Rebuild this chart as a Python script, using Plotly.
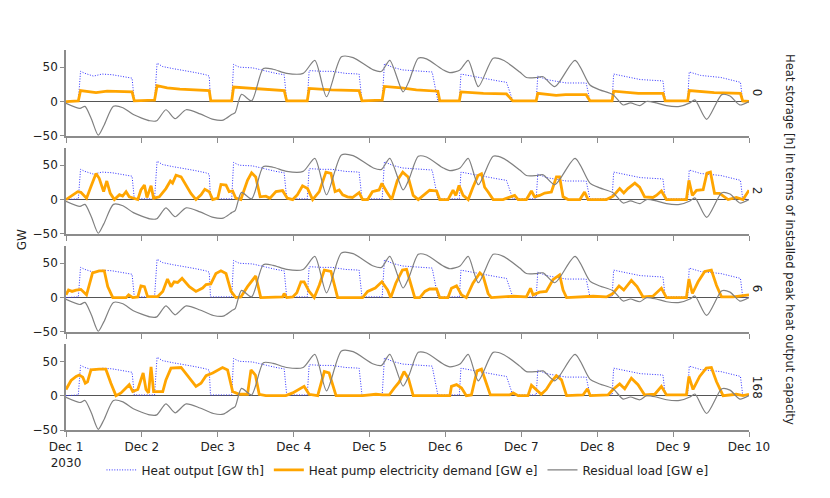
import pandas as pd
import plotly.graph_objects as go
from plotly.subplots import make_subplots

start = pd.Timestamp("2030-12-01")

# ---- data (hours since 2030-12-01 00:00, GW) ----
heat_h = [0, 3.9, 4.6, 6, 8.7, 11.4, 14.6, 17.7, 20.9, 21.6, 28.0, 28.8, 30.5, 33.7, 37.9, 41.1, 44.2, 45.3, 45.7,
          52.4, 53.0, 54.8, 59.0, 63.2, 66.4, 69.0, 69.8, 76.3, 76.9, 81.1, 84.2, 88.4, 92.7, 93.6,
          100.0, 100.7, 103.2, 106.4, 110.8, 115.8, 117.6, 124.4, 124.9, 127, 132.4, 136.6, 139.3, 141.3,
          148.7, 149.2, 151.9, 158.2, 164.5, 165.7, 172.7, 173.2, 177.4, 181.6, 188.8, 189.5,
          196.6, 197.1, 200.7, 207.1, 213.3, 214.0, 216]
heat_v = [0, 1, 44, 41, 37, 40, 39, 36, 34, 1, 1, 56, 51, 48, 45, 42, 39, 37, 1,
          1, 54, 50, 49, 44, 41, 39, 1, 1, 45, 44, 44, 41, 40, 1,
          1, 55, 50, 46, 45, 43, 1, 1, 40, 38, 33, 30, 28, 1,
          1, 37, 32, 27, 27, 1, 1, 40, 36, 32, 30, 1,
          1, 43, 38, 35, 28, 1, 0]

res_h = [0, 4.4, 6, 8, 10.2, 12, 15, 18, 21.3, 26.5, 28.7, 31.6, 34.5, 38, 42.4, 46.6, 49.7, 52.4, 53.5, 55.5,
         58.7, 62.4, 65.5, 69.8, 75, 78.7, 82.4, 87.1, 90.8, 97.2, 99.8, 102.4, 106.6, 108.5, 111.4, 114,
         119.3, 121.4, 124.6, 127.2, 130.4, 135.1, 138.3, 143.5, 145.6, 148.8, 150.9, 154.6, 161, 165.7,
         168.8, 173, 176.2, 178.5, 181.5, 183.6, 186.7, 189.9, 194.1, 197.3, 198.9, 202.6, 207.4, 210,
         213.1, 216]
res_v = [-2.5, -10, -7, -25, -49, -35, -7, -9, -19, -28, -28, -12, -25, -12, -18, -26, -27, -19, -16, 10.5,
         1, 48, 47, 41, 41, 60, 7, 65, 64, 46, 44, 60, 14, 30, 63, 62,
         46, 42, 46, 60, 21.6, 63, 60, 43, 35, 35, 36, 21.6, 60, 24,
         17, 10, -5, -2, -6, 0, -2, -6, -7, -2, 2.4, -26, 10, 8,
         -5, 0]

hp0_h = [0, 3.9, 4.6, 6, 9.5, 13, 17, 20.9, 21.6, 28.0, 28.8, 32, 36, 40, 45.3, 45.8, 52.4, 53.0, 59, 63, 69,
         69.8, 76.3, 76.9, 84, 92.7, 93.6, 100, 100.7, 106, 110.8, 117.6, 118.2, 124.4, 124.9, 132, 139.3,
         141.3, 148.7, 149.2, 155, 158, 164.5, 165.7, 172.7, 173.2, 181, 188.8, 189.5, 196.6, 197.1, 205,
         213.3, 214, 216]
hp0_v = [0, 1, 16, 15, 13, 15, 14, 14, 1, 2, 23, 20, 18, 17, 16, 1, 1, 21, 19, 18, 16,
         1, 1, 19, 17, 16, 1, 2, 22, 20, 17, 15, 1, 1, 14, 12, 11,
         1, 1, 12, 9, 10, 10, 1, 1, 15, 12, 12, 1, 1, 16, 13,
         12, 1, 0]

hp2_h = [0, 1.6, 3.7, 4.7, 6.5, 7.9, 9.5, 10.5, 11.9, 12.9, 14, 15.3, 16.9, 17.9, 19, 20, 21.6, 22.7, 23.7,
         24.8, 25.6, 26.9, 27.7, 29.5, 31.6, 33, 33.7, 34.8, 36.4, 37.9, 39.5, 41.1, 42.7, 43.9, 45.3, 46.4,
         48, 49, 50.6, 51.6, 52.7, 53.7, 55.3, 57.4, 58.7, 60, 61.4, 63.2, 64.5, 66.4, 68.5, 70, 71.7, 73.2,
         74.8, 76.4, 78, 80.1, 82.2, 83.8, 85.1, 86.4, 87.5, 89, 90.6, 92.7, 93.8, 95.4, 96.9, 99, 99.9,
         101.4, 103, 104.8, 106.5, 108.2, 109.8, 111.4, 112.9, 115, 117.2, 118.2, 120.8, 122.4, 123.3,
         124.3, 125.6, 127.2, 128.7, 130.3, 131.4, 132.4, 133.5, 135.1, 138.2, 140.3, 141.9, 143, 145.6,
         147.2, 148.2, 149.8, 151.4, 153.5, 155.1, 156.1, 157.2, 158.8, 162.5, 164, 165.1, 170.9, 173,
         175.1, 176.4, 177.7, 179.9, 181.4, 183, 185.6, 186.7, 188.3, 189.9, 196.2, 197, 198.1, 199.4,
         201.5, 202.7, 203.8, 205.1, 206.7, 209.4, 212, 214.1, 216]
hp2_v = [0, 5, 11.5, 10.5, 2, 19, 38, 31, 11.5, 27, 9, 0, 7, 5, 11.5, 4, 2, 0, 14,
         21, 3, 20, 2, 4, 16, 27, 24, 35.5, 33, 21, 9, 0, 7, 15, 11.5, 0,
         2, 22, 21, 11.5, 12.5, 2, 0, 28, 39, 33, 4, 5, 2, 11.5, 13, 2, 0, 7,
         20, 16, 0, 11.5, 40, 38, 11.5, 14, 7, 4, 3, 10, 0, 0, 11.5, 14, 23.5,
         11.5, 0, 28, 40, 33, 6, 0, 6, 13.5, 12.5, 0, 0, 13.5, 6,
         20.5, 6, 0, 18, 35, 37.5, 18, 11, 0, 0, 3, 6, 0, 0,
         12.5, 4, 6, 9.5, 11, 33, 33, 4, 0, 0, 11, 0, 0, 5,
         16, 9.5, 16, 24, 18, 4, 3, 6, 12.5, 0, 0, 28, 6, 13.5,
         14.5, 38.5, 40, 9, 9, 0, 3, 0, 13.5]

hp6_h = [0, 0.8, 1.9, 3.2, 4.7, 6.5, 8.4, 10.5, 12.1, 13.2, 14.8, 19, 19.8, 21.1, 22.7, 23.7, 24.8, 25.8, 29,
         30.6, 32.1, 33.2, 34.2, 35.3, 36.7, 39, 41.1, 43.2, 44.3, 45.8, 47.4, 49, 50.6, 52.2, 53.7, 55.3,
         57.4, 59, 60, 61.6, 68.5, 69, 69.8, 71.7, 73, 74.3, 75.3, 76.9, 78.5, 80.1, 81.7, 83.8, 85.1, 85.9,
         93.8, 95.4, 97.8, 99.9, 101.7, 102.7, 104.3, 106.4, 107.7, 108.7, 110.3, 111.9, 113.5, 115, 117.2,
         118.2, 120.8, 121.9, 123.5, 125.1, 126.6, 128.7, 130.9, 131.9, 133.5, 134.5, 139.3, 141.4, 145.6,
         146.9, 147.7, 149.8, 151.9, 154, 156.1, 157.2, 158.3, 162.5, 166.7, 170.9, 173, 174.9, 176.4,
         178.8, 180.6, 182.5, 185.6, 188.3, 189.9, 196.2, 197, 198.1, 199.9, 202, 204.1, 205.7, 207.3, 211,
         212.6, 216]
hp6_v = [4, 11, 9, 11, 12, 4, 36, 39, 39, 16, 0, 0, 4, 0, 1, 17, 16, 1.5, 1.5,
         9, 27, 16, 23, 22, 28, 16, 9, 14, 19, 20, 35, 39, 35, 9, 0, 1,
         16, 26, 31.5, 0, 1, 6, 0, 1, 7, 23, 23, 9, 0, 18, 40, 38, 16, 0,
         0, 9, 14, 23, 11, 0, 21, 40, 41, 26, 0, 0, 9, 12.5, 12.5,
         0, 0, 13.5, 17, 4, 0, 21, 36, 31.5, 6, 0, 1, 2, 1,
         13.5, 4, 8, 9, 26, 33, 11, 0, 1, 2, 1, 6, 17, 11,
         25, 16, 1, 2, 13.5, 0, 0, 27, 6, 23, 38, 40, 18, 1, 1,
         2, 4]

hp168_h = [0, 1.6, 3.2, 4.2, 5.3, 6.1, 6.8, 7.9, 10.5, 12.6, 14.2, 15.8, 17.4, 18.4, 20, 21.1, 22.7, 24.4, 25.3,
           26.1, 26.9, 27.7, 30.6, 31.6, 33.2, 36.4, 38.5, 41.1, 42.7, 44.3, 46.4, 49.5, 51.1, 52.7, 54.8,
           57.4, 58.5, 59.9, 61.1, 63.2, 69.5, 71.7, 75.3, 76.9, 79.6, 81.7, 83.2, 85.4, 93.8, 98, 100.1,
           102.2, 103.8, 105.4, 106.9, 108.3, 109.8, 121.4, 121.9, 123.5, 125.1, 126.6, 128.2, 130, 131.4,
           133, 134.2, 140.3, 141.4, 143, 146.1, 147.2, 148.8, 150.3, 151.9, 153.5, 155.1, 156.7, 158.3,
           163.5, 164.9, 165.8, 171.4, 173, 175.1, 176.7, 178.8, 180.9, 183, 186.2, 188.3, 189.9, 196.2,
           197, 198.3, 200.4, 202.5, 204.1, 205.7, 207.8, 212, 214.1, 216]
hp168_v = [9, 22, 28, 30, 27, 18, 20, 37.5, 38.5, 38.5, 18, 0, 4, 9, 16, 6, 9, 33, 9,
           4, 42, 6, 6, 23, 40, 41, 28, 13.5, 18, 29, 33, 41, 37.5, 6, 2,
           2, 37.5, 30, 2, 0, 0, 4, 13.5, 2, 0, 35, 33, 0, 0, 2, 1,
           1, 11, 20, 35, 25, 0, 0, 13.5, 16, 11, 0, 1, 36, 38.5,
           18, 1, 1, 4, 0, 0, 15, 9, 2, 9, 20.5, 29, 23, 0,
           1, 10, 0, 1, 9, 17, 10, 25.5, 16, 1, 2, 13.5, 1, 1,
           28, 9, 28, 40, 41, 20.5, 0, 2, 0, 2]

storage_labels = ["0", "2", "6", "168"]
hp_h = [hp0_h, hp2_h, hp6_h, hp168_h]
hp_v = [hp0_v, hp2_v, hp6_v, hp168_v]


def t(hours):
    return [start + pd.Timedelta(hours=h) for h in hours]


fig = make_subplots(rows=4, cols=1, shared_xaxes=True)
domains = [[0.774, 1.0], [0.516, 0.742], [0.258, 0.484], [0.0, 0.226]]

for i in range(4):
    r = i + 1
    show = i == 0
    fig.add_trace(go.Scatter(x=t(heat_h), y=heat_v, mode="lines", name="Heat output [GW th]",
                             line=dict(color="#3030ff", width=1, dash="1px,1.6px"), showlegend=show,
                             legendrank=1), row=r, col=1)
    fig.add_trace(go.Scatter(x=t(hp_h[i]), y=hp_v[i], mode="lines",
                             name="Heat pump electricity demand [GW e]",
                             line=dict(color="#FFA500", width=2.8), showlegend=show, legendrank=2),
                  row=r, col=1)
    fig.add_trace(go.Scatter(x=t(res_h), y=res_v, mode="lines", name="Residual load [GW e]",
                             line=dict(color="#808080", width=1.2, shape="spline", smoothing=0.7),
                             showlegend=show, legendrank=3), row=r, col=1)

for i in range(4):
    r = i + 1
    ya = "yaxis" if r == 1 else f"yaxis{r}"
    xa = "xaxis" if r == 1 else f"xaxis{r}"
    fig.layout[ya].update(domain=domains[i], range=[-50, 75], tickvals=[-50, 0, 50],
                          ticktext=["\u221250", "0", "50"],
                          showgrid=False, zeroline=True, zerolinecolor="#555555", zerolinewidth=1.3,
                          showline=True, linecolor="#8c8c8c", linewidth=1.6, ticks="outside",
                          ticklen=4, tickcolor="#8c8c8c", tickfont=dict(size=12, color="#222"))
    fig.layout[xa].update(type="date", range=[start, start + pd.Timedelta(days=9)],
                          dtick=86400000, tick0=start, showgrid=False, showline=True,
                          linecolor="#8c8c8c", linewidth=1.6, ticks="outside", ticklen=5,
                          tickcolor="#8c8c8c", tickfont=dict(size=12, color="#222"),
                          showticklabels=(r == 4))
    ymid = (domains[i][0] + domains[i][1]) / 2
    fig.add_annotation(text=storage_labels[i], xref="paper", yref="paper", x=1.012, y=ymid,
                       xanchor="center", yanchor="middle", textangle=90, showarrow=False,
                       font=dict(size=12, color="#222"))

fig.add_annotation(text="Heat storage [h] in terms of installed peak heat output capacity",
                   xref="paper", yref="paper", x=1.06, y=0.5, xanchor="center", yanchor="middle",
                   textangle=90, showarrow=False, font=dict(size=11.6, color="#222"))
fig.add_annotation(text="GW", xref="paper", yref="paper", x=-0.064, y=0.5, xanchor="center",
                   yanchor="middle", textangle=-90, showarrow=False, font=dict(size=12, color="#222"))

fig.update_layout(
    width=830, height=498,
    margin=dict(l=66, r=81, t=50, b=68),
    paper_bgcolor="white", plot_bgcolor="white",
    font=dict(family="DejaVu Sans, Verdana, sans-serif", size=12, color="#222"),
    legend=dict(orientation="h", x=0.5, xanchor="center", y=-0.105, yanchor="middle",
                font=dict(size=12), itemwidth=30, traceorder="normal"),
    hovermode=False,
)

fig.write_html("out.html", config={"displayModeBar": False},
               post_script="document.body.style.margin='0px';")
